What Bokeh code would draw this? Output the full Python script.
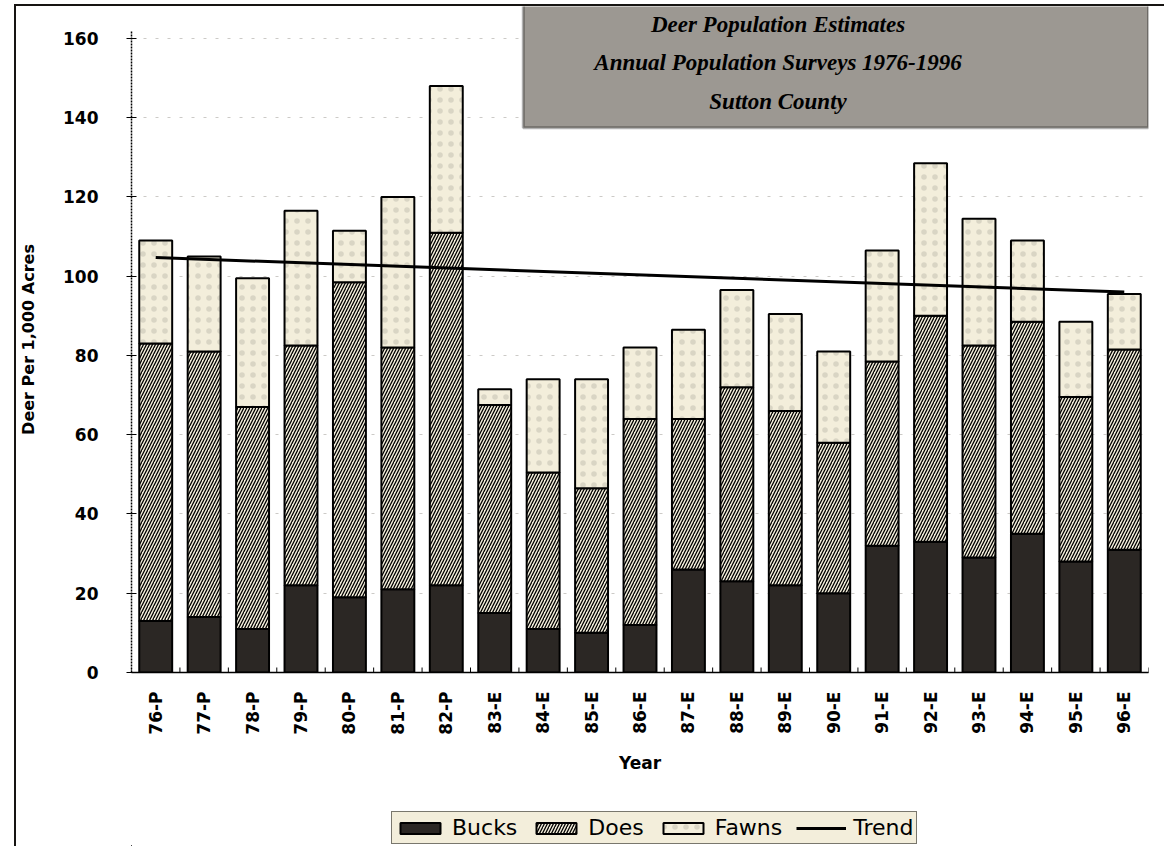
import math
from bokeh.plotting import figure
from bokeh.layouts import column
from bokeh.models import (ColumnDataSource, Legend, LegendItem, Label, BoxAnnotation,
                          FactorRange, Range1d, FixedTicker)
from bokeh.transform import stack
from bokeh.embed import file_html
from bokeh.resources import INLINE

# ---------------- data ----------------
years = ["76-P", "77-P", "78-P", "79-P", "80-P", "81-P", "82-P", "83-E", "84-E", "85-E", "86-E",
         "87-E", "88-E", "89-E", "90-E", "91-E", "92-E", "93-E", "94-E", "95-E", "96-E"]
bucks = [13, 14, 11, 22, 19, 21, 22, 15, 11, 10, 12, 26, 23, 22, 20, 32, 33, 29, 35, 28, 31]
does = [70, 67, 56, 60.5, 79.5, 61, 89, 52.5, 39.5, 36.5, 52, 38, 49, 44, 38, 46.5, 57, 53.5, 53.5, 41.5, 50.5]
fawns = [26, 24, 32.5, 34, 13, 38, 37, 4, 23.5, 27.5, 18, 22.5, 24.5, 24.5, 23, 28, 38.5, 32, 20.5, 19, 14]
trend_years = ["76-P", "96-E"]
trend_values = [104.7, 96.0]
y_ticks = [0, 20, 40, 60, 80, 100, 120, 140, 160]
title_lines = ["Deer Population Estimates", "Annual Population Surveys 1976-1996", "Sutton County"]
legend_labels = ["Bucks", "Does", "Fawns", "Trend"]

BG = "#f3eedb"
DARK = "#2b2724"
SANS = "DejaVu Sans"

bar_style = dict(width=0.68, line_color="black", line_width=2)
styles = [dict(fill_color=DARK),
          dict(fill_color=BG, hatch_pattern="right_diagonal_line", hatch_color="black",
               hatch_scale=6, hatch_weight=1.3),
          dict(fill_color=BG, hatch_pattern="dot", hatch_color="#444", hatch_alpha=0.15,
               hatch_scale=11, hatch_weight=1)]
trend_style = dict(line_color="black", line_width=3)

# ---------------- main chart ----------------
p = figure(x_range=FactorRange(*years, range_padding=0), y_range=Range1d(0, 168.07),
           width=1148, height=794, output_backend="svg", toolbar_location=None, title=None,
           min_border_left=114, min_border_right=16, min_border_top=0, min_border_bottom=128,
           background_fill_alpha=0, border_fill_alpha=0, outline_line_color=None)

src = ColumnDataSource(dict(year=years, Bucks=bucks, Does=does, Fawns=fawns))

p.vbar(x="year", bottom=0, top="Bucks", source=src, **bar_style, **styles[0])
p.vbar(x="year", bottom=stack("Bucks"), top=stack("Bucks", "Does"), source=src,
       **bar_style, **styles[1])
p.vbar(x="year", bottom=stack("Bucks", "Does"), top=stack("Bucks", "Does", "Fawns"), source=src,
       **bar_style, **styles[2])
p.line(x=trend_years, y=trend_values, **trend_style)

# boundary "+" ticks on the x axis line
p.scatter(x=list(range(len(years) + 1)), y=[0] * (len(years) + 1), marker="cross",
          size=10, line_color="black", line_width=1)

# axes
p.yaxis.ticker = FixedTicker(ticks=y_ticks)
p.yaxis.bounds = (0, 162)
p.yaxis.minor_tick_line_color = None
p.yaxis.major_tick_in = 5
p.yaxis.major_tick_out = 5
p.yaxis.axis_line_dash = "2 1"
p.yaxis.axis_line_width = 1.5
p.yaxis.major_label_text_font = SANS
p.yaxis.major_label_text_font_size = "17px"
p.yaxis.major_label_text_font_style = "bold"
p.yaxis.major_label_text_color = "black"
p.yaxis.major_label_standoff = 28
p.yaxis.axis_label = "Deer Per 1,000 Acres"
p.yaxis.axis_label_text_font = SANS
p.yaxis.axis_label_text_font_size = "16px"
p.yaxis.axis_label_text_font_style = "bold"
p.yaxis.axis_label_text_color = "black"
p.yaxis.axis_label_standoff = 22

p.xaxis.major_label_orientation = math.pi / 2
p.xaxis.major_label_text_font = SANS
p.xaxis.major_label_text_font_size = "17px"
p.xaxis.major_label_text_font_style = "bold"
p.xaxis.major_label_text_color = "black"
p.xaxis.major_tick_line_color = None
p.xaxis.major_tick_out = 0
p.xaxis.major_tick_in = 0
p.xaxis.axis_line_width = 1.5
p.xaxis.major_label_standoff = 19
p.xaxis.axis_label = "Year"
p.xaxis.axis_label_text_font = SANS
p.xaxis.axis_label_text_font_size = "17px"
p.xaxis.axis_label_text_font_style = "bold"
p.xaxis.axis_label_text_color = "black"
p.xaxis.axis_label_standoff = 15

p.xgrid.grid_line_color = None
p.ygrid.grid_line_color = "#6d685e"
p.ygrid.grid_line_alpha = 0.35
p.ygrid.grid_line_dash = "3 9"

# title box
p.add_layout(BoxAnnotation(left=8.09, right=21.0, bottom=137.5, top=170,
                           fill_color="#9c9892", fill_alpha=1, line_color="black", line_width=3))
for txt, yy in zip(title_lines, [163.5, 153.9, 144.1]):
    p.add_layout(Label(x=13.35, y=yy, text=txt, text_align="center", text_baseline="middle",
                       text_font="Liberation Serif", text_font_style="bold italic",
                       text_font_size="23px", text_color="black"))

# ---------------- legend strip ----------------
lg = figure(width=1148, height=46, output_backend="svg", toolbar_location=None, title=None,
            x_axis_location=None, y_axis_location=None,
            x_range=Range1d(0, 1), y_range=Range1d(0, 1),
            min_border_left=114, min_border_right=16, min_border_top=0, min_border_bottom=0,
            background_fill_alpha=0, border_fill_alpha=0, outline_line_color=None)
lg.xgrid.visible = False
lg.ygrid.visible = False
# legend swatches need a (hidden, off-range) point to be drawn
hidden = ColumnDataSource(dict(x=[-10, -9], top=[-10, -10]))
leg_r = [lg.vbar(x="x", top="top", source=hidden, **bar_style, **s) for s in styles]
leg_r.append(lg.line(x="x", y="top", source=hidden, **trend_style))

legend = Legend(items=[LegendItem(label=l, renderers=[r]) for l, r in zip(legend_labels, leg_r)],
                orientation="horizontal", location=(260, 2),
                border_line_color="black", border_line_width=1.5,
                background_fill_color=BG, background_fill_alpha=1,
                label_text_font=SANS, label_text_font_size="22px", label_text_color="black",
                glyph_width=50, glyph_height=14, spacing=14, padding=3, margin=0,
                label_standoff=7)
lg.add_layout(legend)

layout = column(p, lg, spacing=0)
layout.styles = {"margin-left": "14px", "margin-top": "4px",
                 "border-left": "2px solid #161412", "border-top": "2px solid #161412"}

html = file_html(layout, INLINE)
html = html.replace("<body>", '<body style="background-color:%s">' % BG, 1)
open("out.html", "w").write(html)
